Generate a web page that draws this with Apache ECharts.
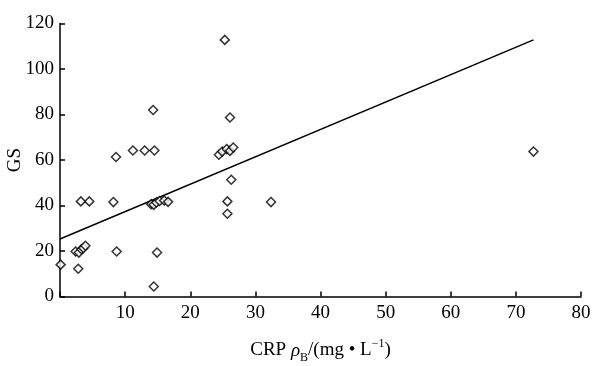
<!DOCTYPE html>
<html>
<head>
<meta charset="utf-8">
<script src="https://cdn.jsdelivr.net/npm/echarts@6/dist/echarts.min.js"></script>
<style>
  html, body { margin: 0; padding: 0; background: #fff; }
  #chart { width: 614px; height: 366px; }
</style>
</head>
<body>
<div id="chart"></div>
<script>
// CRP (mg/L) vs GS scatter
const crp = [
    0.1, 2.8, 2.4, 2.9, 3.3, 3.6, 3.9, 3.2, 4.5, 8.2, 8.7, 8.6,
    11.2, 13.0, 14.5, 14.3, 14.4, 14.9, 14.0, 14.4, 14.8, 15.3, 16.0, 16.6,
    25.3, 26.1, 24.4, 24.9, 25.6, 26.1, 26.6, 26.3, 25.7, 25.7, 32.4, 72.7
]
const gs = [
    14.0, 12.2, 19.8, 19.3, 20.8, 21.3, 22.3, 41.8, 41.8, 41.5, 19.8, 61.3,
    64.2, 64.2, 64.2, 82.0, 4.4, 19.3, 40.6, 40.3, 41.3, 42.0, 42.2, 41.6,
    112.8, 78.7, 62.3, 63.7, 64.8, 64.0, 65.5, 51.3, 41.8, 36.4, 41.5, 63.7
]
// fitted line end points
const fitX = [0, 72.7]
const fitY = [25.3, 112.8]

const xTicks = [10, 20, 30, 40, 50, 60, 70, 80]
const yTicks = [0, 20, 40, 60, 80, 100, 120]

const FONT = '"Liberation Serif", "DejaVu Serif", serif'

const chart = echarts.init(document.getElementById('chart'), null, { renderer: 'canvas' })

const axisCommon = {
    axisLine: { show: true, lineStyle: { color: '#000', width: 1.5 } },
    axisTick: { show: true, inside: true, length: 5, lineStyle: { color: '#000', width: 1.5 } },
    splitLine: { show: false },
}

chart.setOption({
    backgroundColor: '#fff',
    animation: false,
    grid: { left: 60, right: 33, top: 23.5, bottom: 69.5, containLabel: false, outerBoundsMode: 'none' },
    // y axis title, placed by hand since the axis name gets pushed off the edge
    graphic: [{
        type: 'text',
        x: 15,
        y: 160,
        rotation: Math.PI / 2,
        style: {
            text: 'GS',
            fill: '#000',
            font: '19px ' + FONT,
            align: 'center',
            verticalAlign: 'middle',
        },
    }],
    xAxis: {
        ...axisCommon,
        type: 'value',
        min: 0,
        max: 80,
        interval: 10,
        axisLabel: {
            color: '#000',
            fontFamily: FONT,
            fontSize: 19,
            margin: 7,
            formatter: (v) => (xTicks.includes(v) ? String(v) : ''),
        },
        name: '{a|CRP }{i|ρ}{sub|B}{a|/(mg • L}{sup|−1}{a|)}',
        nameLocation: 'middle',
        nameGap: 41,
        nameTextStyle: {
            rich: {
                a: { fontFamily: FONT, fontSize: 19, color: '#000', lineHeight: 26 },
                i: { fontFamily: FONT, fontSize: 19, fontStyle: 'italic', color: '#000', lineHeight: 26 },
                sub: { fontFamily: FONT, fontSize: 12, color: '#000', verticalAlign: 'bottom' },
                sup: { fontFamily: FONT, fontSize: 12, color: '#000', verticalAlign: 'top' },
            },
        },
    },
    yAxis: {
        ...axisCommon,
        type: 'value',
        min: 0,
        max: 120,
        interval: 20,
        axisLabel: {
            color: '#000',
            fontFamily: FONT,
            fontSize: 19,
            margin: 6,
            formatter: (v) => (yTicks.includes(v) ? String(v) : ''),
        },
    },
    series: [
        {
            type: 'line',
            data: fitX.map((x, i) => [x, fitY[i]]),
            symbol: 'none',
            lineStyle: { color: '#000', width: 1.5 },
            z: 1,
        },
        {
            type: 'scatter',
            data: crp.map((x, i) => [x, gs[i]]),
            symbol: 'diamond',
            symbolSize: 9,
            itemStyle: { color: '#fff', borderColor: '#000', borderWidth: 1.5 },
            z: 2,
        },
    ],
})
</script>
</body>
</html>
